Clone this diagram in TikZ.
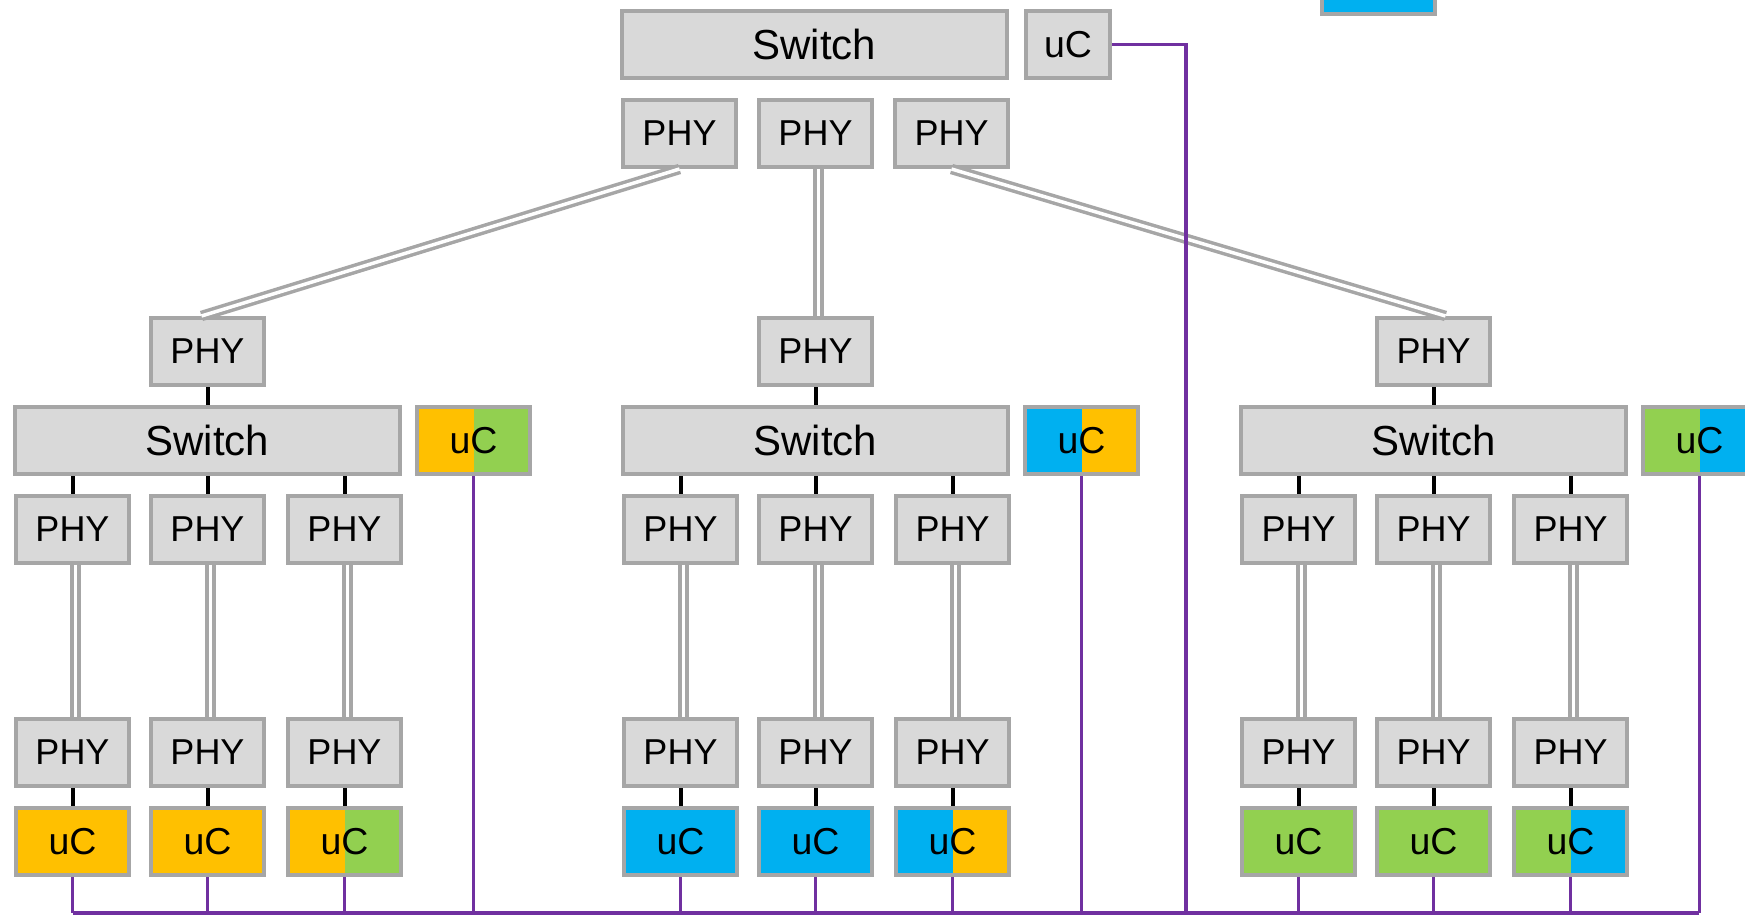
\documentclass[tikz,border=0pt]{standalone}
\usepackage{fontspec}
\setmainfont{Liberation Sans}
\usetikzlibrary{calc}

\definecolor{boxfill}{HTML}{D9D9D9}
\definecolor{boxline}{HTML}{A6A6A6}
\definecolor{ucorange}{HTML}{FFC000}
\definecolor{ucgreen}{HTML}{92D050}
\definecolor{ucblue}{HTML}{00B0F0}
\definecolor{buspurple}{HTML}{7030A0}

\tikzset{
  box/.style = {draw = boxline, fill = boxfill, line width = 4pt, inner sep = 0pt, minimum height = 67pt},
  phy/.style = {box, minimum width = 113pt, font = \fontsize{36}{40}\selectfont},
  switch/.style = {box, minimum width = 385pt, font = \fontsize{42}{46}\selectfont},
  uc/.style = {box, minimum width = 113pt, font = \fontsize{37.5}{42}\selectfont},
  halves/.style 2 args = {path picture = {
    \fill[fill = #1] (path picture bounding box.south west) rectangle (path picture bounding box.north);
    \fill[fill = #2] (path picture bounding box.south) rectangle (path picture bounding box.north east);}},
  link/.style = {draw = boxline, line width = 3.5pt, double = white, double distance = 3.5pt},
  tie/.style = {draw = black, line width = 4pt},
  bus/.style = {draw = buspurple, line width = 3.5pt}
}

\begin{document}
\begin{tikzpicture}[x = 1pt, y = -1pt]
\useasboundingbox (0, 0) rectangle (1745, 915);
% top switch
\node[switch] (swT) at (814.5, 44.5) {Switch};
\node[uc, minimum width = 84pt] (ucT) at (1068, 44.5) {uC};
\node[phy] (phyT1) at (679.5, 133.5) {PHY};
\node[phy] (phyT2) at (815.5, 133.5) {PHY};
\node[phy] (phyT3) at (951.5, 133.5) {PHY};
\node[uc, fill = ucblue] (ucX) at (1378, -19.5) {};
\coordinate (busL) at (72.5, 913);
\coordinate (busR) at (1698.5, 913);
\coordinate (busT) at (1186, 913);
% the three lower switches
\foreach \s/\n/\a/\b in {207.5/L/ucorange/ucgreen, 815.5/M/ucblue/ucorange, 1433.5/R/ucgreen/ucblue} {
  \node[phy] (phyin\n) at (\s, 351.5) {PHY};
  \node[switch] (sw\n) at (\s, 440.5) {Switch};
  \node[uc, halves = {\a}{\b}] (uc\n) at (\s + 266, 440.5) {uC};
  \draw[tie] (phyin\n.south) -- (sw\n.north);
  \draw[bus] (uc\n.south) -- (uc\n.south |- busL);
  \foreach \i/\dx/\c in {1/-135/\a, 2/0/\a, 3/137/\b} {
    \node[phy] (phyup\n\i) at (\s + \dx, 529) {PHY};
    \node[phy] (phydn\n\i) at (\s + \dx, 752.5) {PHY};
    \node[uc, halves = {\a}{\c}] (ucdn\n\i) at (\s + \dx, 841.5) {uC};
    \draw[tie] (sw\n.south -| phyup\n\i) -- (phyup\n\i.north);
    \draw[link] ($(phyup\n\i.south) + (3, 0)$) -- ($(phydn\n\i.north) + (3, 0)$);
    \draw[tie] (phydn\n\i.south) -- (ucdn\n\i.north);
    \draw[bus] (ucdn\n\i.south) -- (ucdn\n\i.south |- busL);
  }
}
\draw[link] (phyT1.south) -- ($(phyinL.north) + (-6, 0)$);
\draw[link] ($(phyT2.south) + (3, 0)$) -- ($(phyinM.north) + (3, 0)$);
\draw[link] (phyT3.south) -- ($(phyinR.north) + (12, 0)$);
\draw[bus] (ucT.east) -| (busT);
\draw[bus] (busL) -- (busR);
\end{tikzpicture}
\end{document}
